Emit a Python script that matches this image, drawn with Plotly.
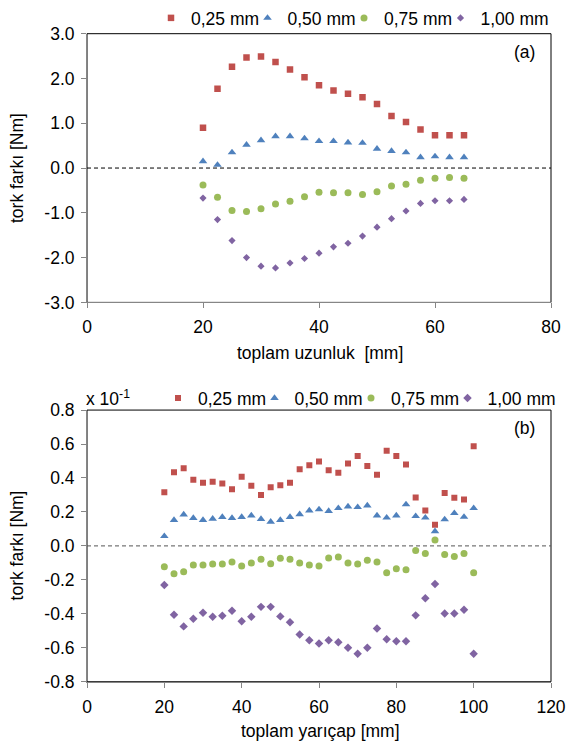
import plotly.graph_objects as go

# ---------------- data ----------------
series_names = ["0,25 mm", "0,50 mm", "0,75 mm", "1,00 mm"]

x_top = [20, 22.5, 25, 27.5, 30, 32.5, 35, 37.5, 40, 42.5, 45, 47.5, 50,
         52.5, 55, 57.5, 60, 62.5, 65]
top_025 = [0.90, 1.77, 2.26, 2.47, 2.49, 2.37, 2.20, 2.03, 1.85, 1.73, 1.66,
           1.58, 1.43, 1.16, 1.03, 0.86, 0.73, 0.73, 0.73]
top_050 = [0.15, 0.07, 0.35, 0.52, 0.62, 0.71, 0.71, 0.66, 0.60, 0.60, 0.57,
           0.56, 0.43, 0.38, 0.35, 0.24, 0.26, 0.24, 0.24]
top_075 = [-0.38, -0.65, -0.95, -0.97, -0.91, -0.80, -0.74, -0.64, -0.54,
           -0.55, -0.55, -0.59, -0.53, -0.40, -0.36, -0.27, -0.23, -0.21, -0.23]
top_100 = [-0.67, -1.15, -1.62, -2.00, -2.19, -2.23, -2.12, -2.02, -1.90,
           -1.76, -1.68, -1.52, -1.32, -1.13, -0.96, -0.79, -0.73, -0.73, -0.70]

x_bot = [20, 22.5, 25, 27.5, 30, 32.5, 35, 37.5, 40, 42.5, 45, 47.5, 50,
         52.5, 55, 57.5, 60, 62.5, 65, 67.5, 70, 72.5, 75, 77.5, 80, 82.5,
         85, 87.5, 90, 92.5, 95, 97.5, 100]
bot_025 = [0.316, 0.434, 0.458, 0.390, 0.372, 0.378, 0.367, 0.333, 0.408,
           0.355, 0.300, 0.345, 0.357, 0.372, 0.452, 0.475, 0.497,
           0.446, 0.431, 0.485, 0.530, 0.470, 0.419, 0.560, 0.530,
           0.480, 0.285, 0.209, 0.125, 0.312, 0.283, 0.273, 0.587]
bot_050 = [0.057, 0.152, 0.185, 0.164, 0.152, 0.160, 0.170, 0.164, 0.170,
           0.179, 0.158, 0.142, 0.152, 0.170, 0.186, 0.208, 0.215,
           0.205, 0.222, 0.232, 0.228, 0.238, 0.179, 0.166, 0.179,
           0.244, 0.175, 0.166, 0.086, 0.156, 0.193, 0.171, 0.222]
bot_075 = [-0.123, -0.164, -0.152, -0.113, -0.113, -0.107, -0.107, -0.095, -0.119,
           -0.101, -0.078, -0.105, -0.072, -0.078, -0.101, -0.113, -0.119,
           -0.071, -0.066, -0.101, -0.107, -0.084, -0.095, -0.158, -0.135,
           -0.140, -0.027, -0.045, 0.035, -0.051, -0.062, -0.045, -0.158]
bot_100 = [-0.230, -0.405, -0.474, -0.429, -0.394, -0.417, -0.411, -0.382, -0.444,
           -0.417, -0.359, -0.359, -0.415, -0.450, -0.522, -0.556, -0.575,
           -0.556, -0.567, -0.600, -0.635, -0.600, -0.487, -0.550, -0.561,
           -0.561, -0.409, -0.308, -0.224, -0.398, -0.398, -0.376, -0.635]

top_xticks = [0, 20, 40, 60, 80]
top_yticks = [3, 2, 1, 0, -1, -2, -3]
top_yticklabels = ["3.0", "2.0", "1.0", "0.0", "-1.0", "-2.0", "-3.0"]
bot_xticks = [0, 20, 40, 60, 80, 100, 120]
bot_yticks = [0.8, 0.6, 0.4, 0.2, 0.0, -0.2, -0.4, -0.6, -0.8]
bot_yticklabels = ["0.8", "0.6", "0.4", "0.2", "0.0", "-0.2", "-0.4", "-0.6", "-0.8"]

# ---------------- style ----------------
W, H = 568, 742
FONT = "Liberation Sans, Arial, sans-serif"
FS = 17.5
colors = ["#C0504D", "#4F81BD", "#9BBB59", "#8064A2"]
symbols = ["square", "triangle-up", "circle", "diamond"]
sizes_top = [6.5, 7.5, 7, 5.5]
sizes_bot = [6, 7.5, 7, 6.5]
leg_widths = [51.5, 51.5, 51.5, 72]
AXC = "#868686"


def fx(p):
    return p / W


def fy(p):
    return 1 - p / H


fig = go.Figure()

for i, ys in enumerate([top_025, top_050, top_075, top_100]):
    fig.add_trace(go.Scatter(
        x=x_top, y=ys, mode="markers", name=series_names[i],
        marker=dict(symbol=symbols[i], size=sizes_top[i], color=colors[i]),
        xaxis="x", yaxis="y", legend="legend", legendwidth=leg_widths[i]))

for i, ys in enumerate([bot_025, bot_050, bot_075, bot_100]):
    fig.add_trace(go.Scatter(
        x=x_bot, y=ys, mode="markers", name=series_names[i],
        marker=dict(symbol=symbols[i], size=sizes_bot[i], color=colors[i]),
        xaxis="x2", yaxis="y2", legend="legend2", legendwidth=leg_widths[i]))

axis_common = dict(showgrid=False, zeroline=False, showline=True, linecolor=AXC,
                   linewidth=1, ticks="outside", ticklen=5, tickcolor=AXC,
                   tickfont=dict(family=FONT, size=FS, color="#000000"),
                   automargin=False, fixedrange=True)

dom_x = [fx(87), fx(551)]
leg_common = dict(orientation="h", xanchor="left", yanchor="middle",
                  font=dict(family=FONT, size=FS, color="#000000"),
                  bgcolor="rgba(0,0,0,0)", itemwidth=30, entrywidth=51.5,
                  entrywidthmode="pixels", itemclick=False)
fig.update_layout(
    width=W, height=H,
    margin=dict(l=0, r=0, t=0, b=0),
    paper_bgcolor="white", plot_bgcolor="white",
    font=dict(family=FONT, size=FS, color="#000000"),
    xaxis=dict(domain=dom_x, range=[0, 80], tickvals=top_xticks, anchor="y",
               ticklabelstandoff=4, **axis_common),
    yaxis=dict(domain=[fy(297), fy(25)], range=[-3, 3], tickvals=top_yticks,
               ticktext=top_yticklabels, anchor="x", ticklabelstandoff=3, **axis_common),
    xaxis2=dict(domain=dom_x, range=[0, 120], tickvals=bot_xticks, anchor="y2",
                ticklabelstandoff=4, **axis_common),
    yaxis2=dict(domain=[fy(681), fy(406)], range=[-0.8, 0.8], tickvals=bot_yticks,
                ticktext=bot_yticklabels, anchor="x2", ticklabelstandoff=3, **axis_common),
    legend=dict(x=fx(151), y=fy(8.8), **leg_common),
    legend2=dict(x=fx(158), y=fy(394), **leg_common),
)

# plot area borders and dashed zero lines
for xr, yr, dcol in [("x", "y", "#000000"), ("x2", "y2", "#555555")]:
    fig.add_shape(type="rect", xref=xr + " domain", yref=yr + " domain",
                  x0=0, x1=1, y0=0, y1=1, line=dict(color="#000000", width=1),
                  layer="below")
    fig.add_shape(type="line", xref=xr + " domain", yref=yr, x0=0, x1=1, y0=0, y1=0,
                  line=dict(color=dcol, width=1, dash="4px,3px"), layer="below")

ann = [
    dict(text="(a)", x=fx(524), y=fy(44)),
    dict(text="(b)", x=fx(524), y=fy(424)),
    dict(text="toplam uzunluk  [mm]", x=fx(320), y=fy(348)),
    dict(text="toplam yarıçap [mm]", x=fx(320), y=fy(731)),
    dict(text="tork farkı [Nm]", x=fx(17), y=fy(161), textangle=-90),
    dict(text="tork farkı [Nm]", x=fx(17), y=fy(543), textangle=-90),
]
for a in ann:
    fig.add_annotation(xref="paper", yref="paper", showarrow=False,
                       xanchor="center", yanchor="middle",
                       font=dict(family=FONT, size=FS, color="#000000"), **a)
fig.add_annotation(xref="paper", yref="paper", showarrow=False, text="x 10<sup>-1</sup>",
                   x=fx(84), y=fy(394), xanchor="left", yanchor="middle",
                   font=dict(family=FONT, size=FS, color="#000000"))

fig.write_html("out.html", config={"displayModeBar": False},
               post_script="document.body.style.margin='0';document.body.style.padding='0';")
